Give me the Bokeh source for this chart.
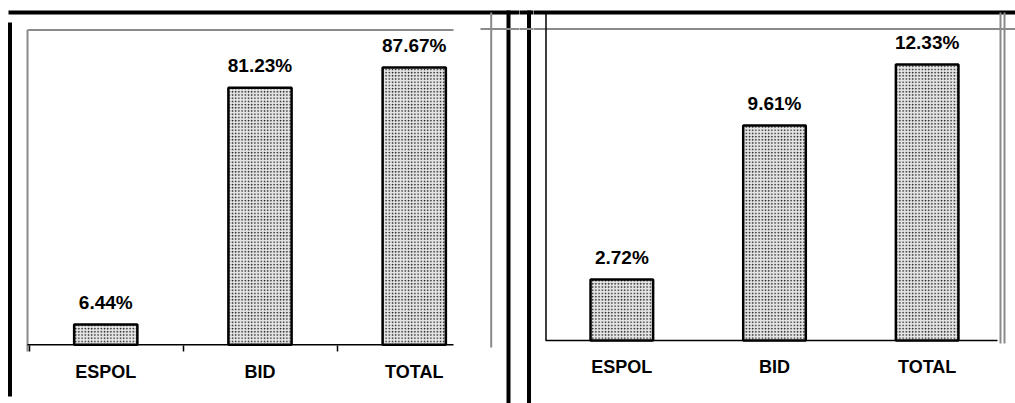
from bokeh.plotting import figure
from bokeh.layouts import row
from bokeh.models import ColumnDataSource, FactorRange, Range1d
from bokeh.core.properties import value
from bokeh.embed import file_html
from bokeh.resources import INLINE

# ---- data ----
categories = ["ESPOL", "BID", "TOTAL"]
left_values = [6.44, 81.23, 87.67]
right_values = [2.72, 9.61, 12.33]

FONT = value("Liberation Sans")
PY0, PY1 = 0, 403  # page y extent of the figures
H = PY1 - PY0

# table decoration lines in page pixel coordinates: (x0, y0, x1, y1)
thick_lines = [(8, 12, 1015, 12), (9.5, 22, 9.5, 396), (508, 10, 508, 403), (528.5, 10, 528.5, 403)]
gray_lines = [(490.7, 12, 490.7, 347), (1000, 12, 1000, 343), (1004, 12, 1004, 343),
              (480, 28.5, 1015, 28.5), (27, 29.5, 453, 29.5), (27, 29.5, 27, 351)]
thin_lines = [(545.5, 12, 545.5, 340), (29, 345, 29, 351), (183, 345, 183, 351), (337, 345, 337, 351)]


def add_decor(p, xmap):
    for segs, color, w in ((thick_lines, "black", 4), (gray_lines, "#8a8a8a", 2), (thin_lines, "black", 1.5)):
        p.segment(x0=[xmap(s[0]) for s in segs], y0=[s[1] for s in segs], x1=[xmap(s[2]) for s in segs],
                  y1=[s[3] for s in segs], line_color=color, line_width=w, y_range_name="py")


def chart(vals, px0, px1, pad, ymin, ymax, base_x0, base_x1):
    W = px1 - px0
    n = len(categories)

    def xmap(px):  # page pixel -> synthetic categorical coordinate
        return -pad + (px - px0) / W * (n + 2 * pad)

    p = figure(width=W, height=H,
               x_range=FactorRange(factors=categories, range_padding=pad, range_padding_units="absolute"),
               y_range=Range1d(ymin, ymax), output_backend="svg", toolbar_location=None,
               min_border=0, outline_line_color=None)
    p.extra_y_ranges = {"py": Range1d(PY1, PY0)}
    src = ColumnDataSource(dict(cat=categories, val=vals, label=[f"{v:.2f}%" for v in vals]))
    add_decor(p, xmap)
    p.segment(x0=[xmap(base_x0)], x1=[xmap(base_x1)], y0=[0], y1=[0], line_color="black", line_width=1.5)
    p.vbar(x="cat", top="val", width=0.41, source=src, fill_color="#e6e6e6",
           hatch_pattern="dot", hatch_color="#111111", hatch_scale=3.2, hatch_weight=1.5,
           line_color="black", line_width=2.5)
    p.text(x="cat", y="val", text="label", source=src, text_font=FONT, text_font_style="bold",
           text_font_size="19px", text_align="center", text_baseline="alphabetic",
           y_offset=-22, text_color="black")
    p.xaxis.fixed_location = 0
    p.xaxis.axis_line_color = None
    p.xaxis.major_tick_line_color = None
    p.xaxis.minor_tick_line_color = None
    p.xaxis.major_label_standoff = 11
    p.xaxis.major_label_text_font = "Liberation Sans"
    p.xaxis.major_label_text_font_style = "bold"
    p.xaxis.major_label_text_font_size = "18px"
    p.xaxis.major_label_text_color = "black"
    p.yaxis.visible = False
    p.xgrid.visible = False
    p.ygrid.visible = False
    return p


p1 = chart(left_values, 0, 519, 0.1825, -18.56, 108.85, 27, 453)

p2 = figure(width=14, height=H, x_range=Range1d(519, 533), y_range=Range1d(PY1, PY0),
            output_backend="svg", toolbar_location=None, min_border=0, outline_line_color=None)
p2.extra_y_ranges = {"py": Range1d(PY1, PY0)}
add_decor(p2, lambda px: px)
p2.axis.visible = False
p2.grid.visible = False

p3 = chart(right_values, 533, 1015, 0.0786, -2.815, 15.19, 545, 997)

layout = row(p1, p2, p3, spacing=0)
open("out.html", "w").write(file_html(layout, INLINE))
